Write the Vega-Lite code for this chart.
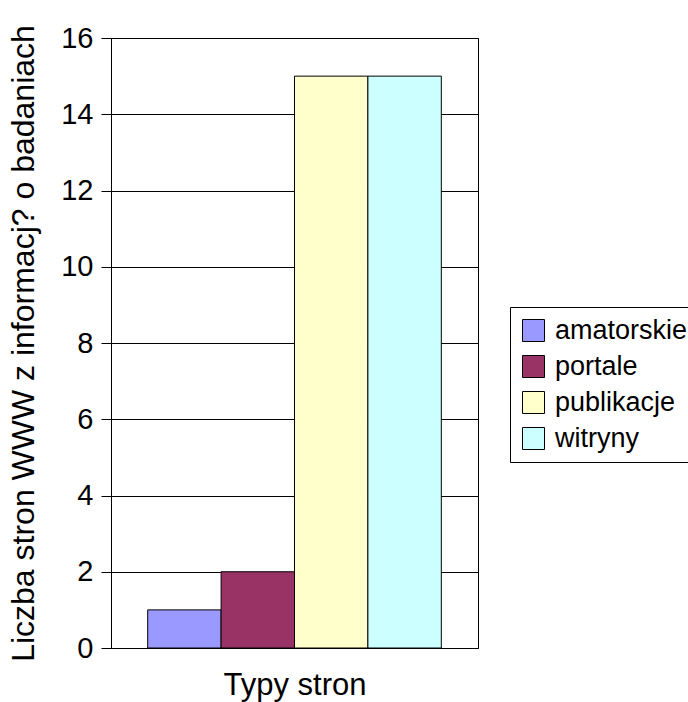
{
  "$schema": "https://vega.github.io/schema/vega-lite/v6.json",
  "width": 367,
  "height": 610,
  "autosize": "none",
  "padding": {"left": 111, "top": 38, "right": 210, "bottom": 54},
  "background": "white",
  "config": {
    "font": "Liberation Sans",
    "view": {"stroke": "black", "strokeWidth": 1},
    "axis": {"labelFont": "Liberation Sans", "titleFont": "Liberation Sans", "titleFontWeight": "normal", "labelColor": "black", "titleColor": "black", "domainColor": "black", "tickColor": "black", "gridColor": "black", "gridOpacity": 1}
  },
  "data": {
    "values": [
      {"typ": "amatorskie", "liczba": 1},
      {"typ": "portale", "liczba": 2},
      {"typ": "publikacje", "liczba": 15},
      {"typ": "witryny", "liczba": 15}
    ]
  },
  "mark": {"type": "bar", "stroke": "black", "strokeWidth": 1, "opacity": 1},
  "encoding": {
    "x": {
      "field": "typ",
      "type": "nominal",
      "sort": null,
      "scale": {"paddingInner": 0, "paddingOuter": 0.5},
      "axis": {"labels": false, "ticks": false, "title": "Typy stron", "titleFontSize": 31, "titlePadding": 22, "domainWidth": 1}
    },
    "y": {
      "field": "liczba",
      "type": "quantitative",
      "scale": {"domain": [0, 16], "nice": false},
      "axis": {
        "values": [0, 2, 4, 6, 8, 10, 12, 14, 16],
        "title": "Liczba stron WWW z informacj? o badaniach",
        "titleFontSize": 32,
        "titlePadding": 20,
        "labelFontSize": 29,
        "labelPadding": 8,
        "tickSize": 10,
        "grid": true,
        "gridWidth": 1
      }
    },
    "color": {
      "field": "typ",
      "type": "nominal",
      "sort": null,
      "scale": {"domain": ["amatorskie", "portale", "publikacje", "witryny"], "range": ["#9999FF", "#993366", "#FFFFCC", "#CCFFFF"]},
      "legend": {
        "title": null,
        "orient": "none",
        "legendX": 399,
        "legendY": 269,
        "symbolType": "square",
        "symbolSize": 484,
        "symbolStrokeColor": "black",
        "symbolStrokeWidth": 1,
        "symbolOpacity": 1,
        "labelFontSize": 27,
        "labelFont": "Liberation Sans",
        "labelColor": "black",
        "labelOffset": 8,
        "rowPadding": 8,
        "padding": 10,
        "strokeColor": "black",
        "fillColor": "white"
      }
    }
  }
}
